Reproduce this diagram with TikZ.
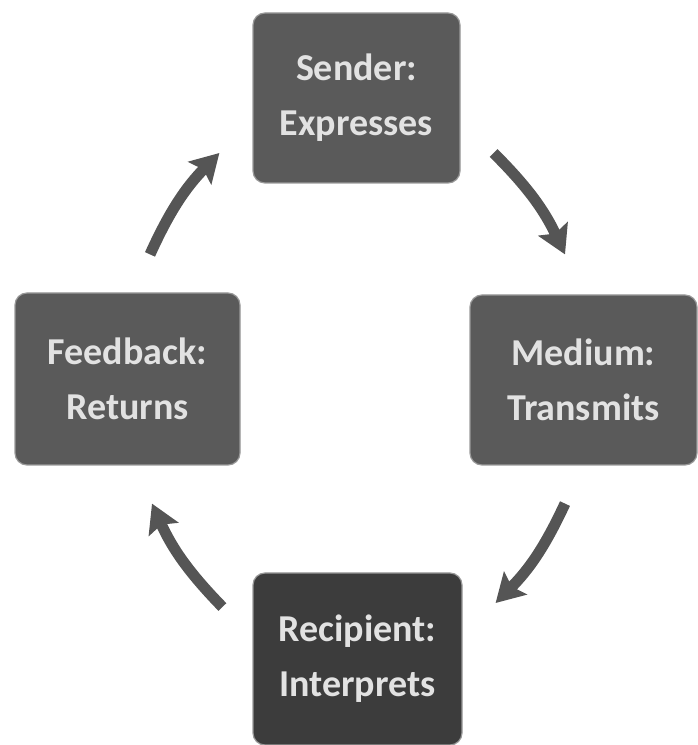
\documentclass[tikz,border=0pt]{standalone}
\usepackage{fontspec}
\setmainfont{Carlito}
\usetikzlibrary{shapes,arrows.meta}
\definecolor{boxgray}{HTML}{5A5A5A}
\definecolor{boxdark}{HTML}{3C3C3C}
\definecolor{arrowgray}{HTML}{555555}
\definecolor{textgray}{HTML}{E2E2E2}
\tikzstyle{stage} = [rectangle, rounded corners=12pt, minimum width=207pt, minimum height=170pt, inner sep=0pt, align=center, draw=black!40, line width=1.2pt, fill=boxgray, text=textgray, font=\fontsize{38}{55}\selectfont\bfseries]
\tikzstyle{arrow} = [line width=11pt, arrowgray, -{Stealth[length=28pt,width=32pt,inset=5pt]}]

\begin{document}
\begin{tikzpicture}[x=1pt,y=1pt]
\useasboundingbox (0,0) rectangle (698,745);

\node (sender) [stage] at (356.5,647) {Sender:\\Expresses};
\node (medium) [stage, minimum width=227pt] at (583.5,365) {Medium:\\Transmits};
\node (recipient) [stage, minimum width=209pt, minimum height=172pt, fill=boxdark] at (357.5,86) {Recipient:\\Interprets};
\node (feedback) [stage, minimum width=225pt, minimum height=172pt] at (127.5,366) {Feedback:\\Returns};

\draw [arrow] ([xshift=22.5pt,yshift=38pt]feedback.north) to[bend left=10] ([xshift=-33pt,yshift=-55pt]sender.west);
\draw [arrow] ([xshift=33pt,yshift=-55pt]sender.east) to[bend left=10] ([xshift=-18.5pt,yshift=40pt]medium.north);
\draw [arrow] ([xshift=-18.5pt,yshift=-38pt]medium.south) to[bend left=10] ([xshift=33pt,yshift=56pt]recipient.east);
\draw [arrow] ([xshift=-30pt,yshift=52pt]recipient.west) to[bend left=10] ([xshift=24.5pt,yshift=-38pt]feedback.south);

\end{tikzpicture}
\end{document}
